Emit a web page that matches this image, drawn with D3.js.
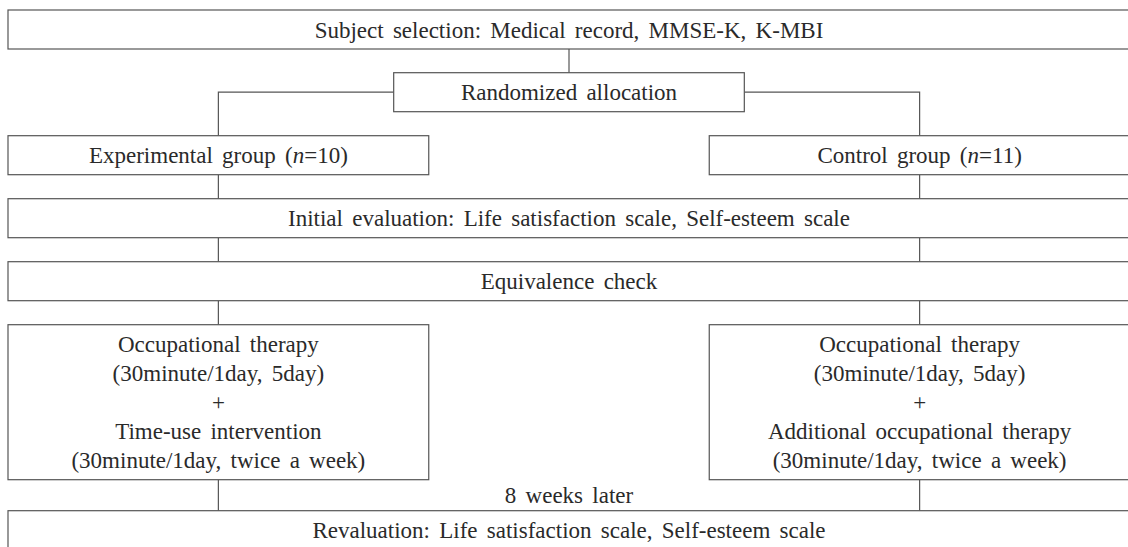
<!DOCTYPE html>
<html>
<head>
<meta charset="utf-8">
<script src="https://cdn.jsdelivr.net/npm/d3@7"></script>
<style>
  html, body { margin: 0; padding: 0; background: #fff; overflow: hidden; }
  svg { display: block; }
  .box { fill: #fff; stroke: #555; stroke-width: 1.2; }
  .link { fill: none; stroke: #555; stroke-width: 1.2; }
  .lbl { font-family: "Liberation Serif", "Times New Roman", serif; font-size: 23px; fill: #2a2a2a; word-spacing: 3.5px; }
</style>
</head>
<body>
<div id="flow"></div>
<script>
// flow chart content
var topRows = ["Subject selection: Medical record, MMSE-K, K-MBI"]
var allocation = "Randomized allocation"
var groupNames = ["Experimental group", "Control group"]
var groupN = [10, 11]
var midRows = ["Initial evaluation: Life satisfaction scale, Self-esteem scale", "Equivalence check"]
var leftProgram = ["Occupational therapy", "(30minute/1day, 5day)", "+", "Time-use intervention", "(30minute/1day, twice a week)"]
var rightProgram = ["Occupational therapy", "(30minute/1day, 5day)", "+", "Additional occupational therapy", "(30minute/1day, twice a week)"]
var followUp = "8 weeks later"
var lastRow = "Revaluation: Life satisfaction scale, Self-esteem scale"

var width = 1128, height = 547

var svg = d3.select("#flow").append("svg")
	.attr("width", width)
	.attr("height", height)

// horizontal layout in fractions of the full row width (right edge runs off the page)
var x = d3.scaleLinear()
	.domain([0, 1])
	.range([8, 1130])

var cols = [[0, 0.375], [0.625, 1]]
var colMid = cols.map(function(c){ return (c[0] + c[1]) / 2 })

// vertical layout
var lineH = 29, pad = 10, gap = 24
function boxH(n){ return pad + lineH * n }

var y = 10
var rowSubject = {top: y, h: boxH(1)}; y += rowSubject.h + gap - 0.3
var rowAlloc = {top: y, h: boxH(1)}; y += rowAlloc.h + gap
var rowGroup = {top: y, h: boxH(1)}; y += rowGroup.h + gap
var rowInit = {top: y, h: boxH(1)}; y += rowInit.h + gap
var rowEq = {top: y, h: boxH(1)}; y += rowEq.h + gap
var rowProg = {top: y, h: boxH(leftProgram.length)}; y += rowProg.h + 31
var rowLast = {top: y, h: boxH(1)}

var links = svg.append("g")
var boxes = svg.append("g")

function drawBox(x0, x1, row, lines, italicN){
	boxes.append("rect")
		.attr("class", "box")
		.attr("x", x(x0))
		.attr("y", row.top)
		.attr("width", x(x1) - x(x0))
		.attr("height", row.h)

	var cy = row.top + row.h / 2
	var first = cy - (lines.length - 1) * lineH / 2
	lines.forEach(function(t, i){
		var txt = boxes.append("text")
			.attr("class", "lbl")
			.attr("x", (x(x0) + x(x1)) / 2)
			.attr("y", first + i * lineH)
			.attr("dy", "0.35em")
			.attr("text-anchor", "middle")
		if (italicN != null){
			txt.append("tspan").text(t + " (")
			txt.append("tspan").attr("font-style", "italic").text("n")
			txt.append("tspan").text("=" + italicN + ")")
		} else {
			txt.text(t)
		}
	})
}

function vline(fx, y1, y2){
	links.append("line")
		.attr("class", "link")
		.attr("x1", x(fx)).attr("x2", x(fx))
		.attr("y1", y1).attr("y2", y2)
}

// boxes
drawBox(0, 1, rowSubject, topRows)
drawBox(0.34375, 0.65625, rowAlloc, [allocation])
groupNames.forEach(function(g, i){
	drawBox(cols[i][0], cols[i][1], rowGroup, [g], groupN[i])
})
drawBox(0, 1, rowInit, [midRows[0]])
drawBox(0, 1, rowEq, [midRows[1]])
drawBox(cols[0][0], cols[0][1], rowProg, leftProgram)
drawBox(cols[1][0], cols[1][1], rowProg, rightProgram)
drawBox(0, 1, rowLast, [lastRow])

// connectors
vline(0.5, rowSubject.top + rowSubject.h, rowAlloc.top)

var allocMid = rowAlloc.top + rowAlloc.h / 2
var elbow = d3.line()
links.append("path").attr("class", "link")
	.attr("d", elbow([[x(0.34375), allocMid], [x(colMid[0]), allocMid], [x(colMid[0]), rowGroup.top]]))
links.append("path").attr("class", "link")
	.attr("d", elbow([[x(0.65625), allocMid], [x(colMid[1]), allocMid], [x(colMid[1]), rowGroup.top]]))

colMid.forEach(function(m){
	vline(m, rowGroup.top + rowGroup.h, rowInit.top)
	vline(m, rowInit.top + rowInit.h, rowEq.top)
	vline(m, rowEq.top + rowEq.h, rowProg.top)
	vline(m, rowProg.top + rowProg.h, rowLast.top)
})

// label in the gap before revaluation
svg.append("text")
	.attr("class", "lbl")
	.attr("x", x(0.5))
	.attr("y", (rowProg.top + rowProg.h + rowLast.top) / 2)
	.attr("dy", "0.35em")
	.attr("text-anchor", "middle")
	.text(followUp)
</script>
</body>
</html>
